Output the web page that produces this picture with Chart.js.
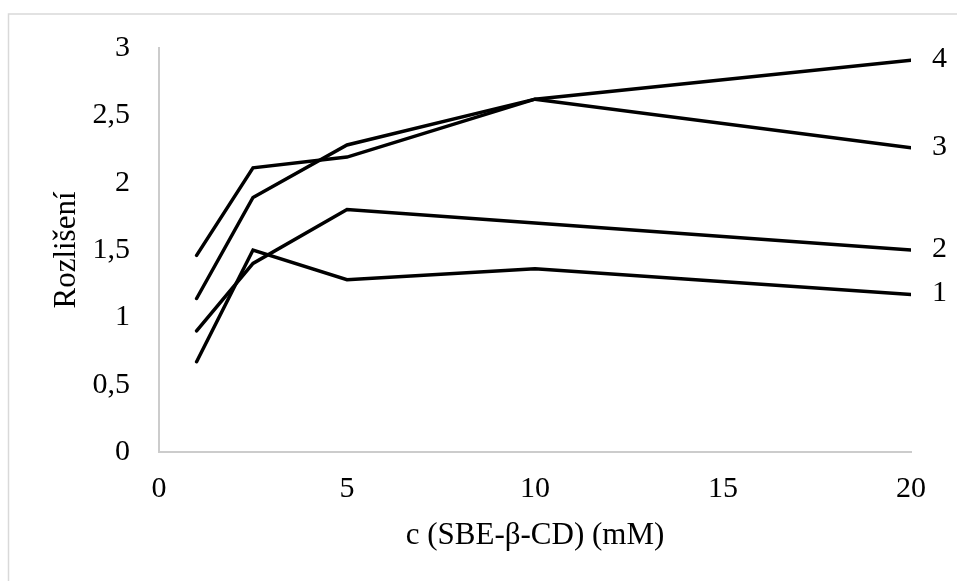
<!DOCTYPE html>
<html lang="cs">
<head>
<meta charset="utf-8">
<title>Rozlišení</title>
<script src="https://cdn.jsdelivr.net/npm/chart.js@4.4.0/dist/chart.umd.min.js"></script>
<style>
  html, body { margin: 0; padding: 0; background: #fff; }
  canvas { display: block; }
</style>
</head>
<body>
<canvas id="graf" width="957" height="581"></canvas>
<script>
// Data
const koncentrace = [1, 2.5, 5, 10, 20];
const rada1 = [0.67, 1.50, 1.28, 1.36, 1.17];
const rada2 = [0.90, 1.40, 1.80, 1.70, 1.50];
const rada3 = [1.14, 1.89, 2.28, 2.62, 2.26];
const rada4 = [1.46, 2.11, 2.19, 2.62, 2.91];
const nazvyRad = ['1', '2', '3', '4'];
const ticksX = [0, 5, 10, 15, 20];
const ticksY = [0, 0.5, 1, 1.5, 2, 2.5, 3];

const pismo = "'Liberation Serif', 'Times New Roman', serif";
const seda = '#cccccc';

function body(hodnoty) {
  return hodnoty.map((y, i) => ({ x: koncentrace[i], y: y }));
}

const datasets = [rada1, rada2, rada3, rada4].map((r, i) => ({
  label: nazvyRad[i],
  data: body(r),
  borderColor: '#000',
  borderWidth: 3.5,
  borderCapStyle: 'round',
  borderJoinStyle: 'miter',
  pointRadius: 0,
  fill: false,
  tension: 0
}));

// Frame round the chart (only top and left visible)
const ramecek = {
  id: 'ramecek',
  beforeDraw(chart) {
    const ctx = chart.ctx;
    ctx.save();
    ctx.fillStyle = '#fff';
    ctx.fillRect(0, 0, chart.width, chart.height);
    ctx.strokeStyle = '#d9d9d9';
    ctx.lineWidth = 1.5;
    ctx.strokeRect(8.5, 14, 2000, 2000);
    ctx.restore();
  }
};

// Series names at the end of each line
const popisky = {
  id: 'popisky',
  afterDatasetsDraw(chart) {
    const ctx = chart.ctx;
    ctx.save();
    ctx.font = '30px ' + pismo;
    ctx.fillStyle = '#000';
    ctx.textAlign = 'left';
    ctx.textBaseline = 'middle';
    chart.data.datasets.forEach((ds, i) => {
      const meta = chart.getDatasetMeta(i);
      const bod = meta.data[meta.data.length - 1];
      ctx.fillText(ds.label, bod.x + 21, bod.y - 1);
    });
    ctx.restore();
  }
};

new Chart(document.getElementById('graf'), {
  type: 'line',
  data: { datasets: datasets },
  plugins: [ramecek, popisky],
  options: {
    responsive: false,
    animation: false,
    layout: { padding: { left: 0, top: 48, right: 46, bottom: 0 } },
    plugins: {
      legend: { display: false },
      tooltip: { enabled: false }
    },
    scales: {
      x: {
        type: 'linear',
        min: 0,
        max: 20,
        afterBuildTicks: scale => { scale.ticks = ticksX.map(v => ({ value: v })); },
        afterFit: scale => { scale.height = 129; },
        grid: { display: false },
        border: { display: true, color: seda, width: 2 },
        ticks: {
          padding: 11,
          color: '#000',
          font: { family: pismo, size: 30 },
          maxRotation: 0
        },
        title: {
          display: true,
          text: 'c (SBE-β-CD) (mM)',
          color: '#000',
          font: { family: pismo, size: 31 },
          padding: { top: 0, bottom: 27 }
        }
      },
      y: {
        min: 0,
        max: 3,
        afterBuildTicks: scale => { scale.ticks = ticksY.map(v => ({ value: v })); },
        afterFit: scale => { scale.width = 159; },
        grid: { display: false },
        border: { display: true, color: seda, width: 2 },
        ticks: {
          padding: 21,
          color: '#000',
          font: { family: pismo, size: 30 },
          callback: v => String(v).replace('.', ',')
        },
        title: {
          display: true,
          text: 'Rozlišení',
          color: '#000',
          font: { family: pismo, size: 31 },
          padding: { top: 48, bottom: 0 }
        }
      }
    }
  }
});
</script>
</body>
</html>
